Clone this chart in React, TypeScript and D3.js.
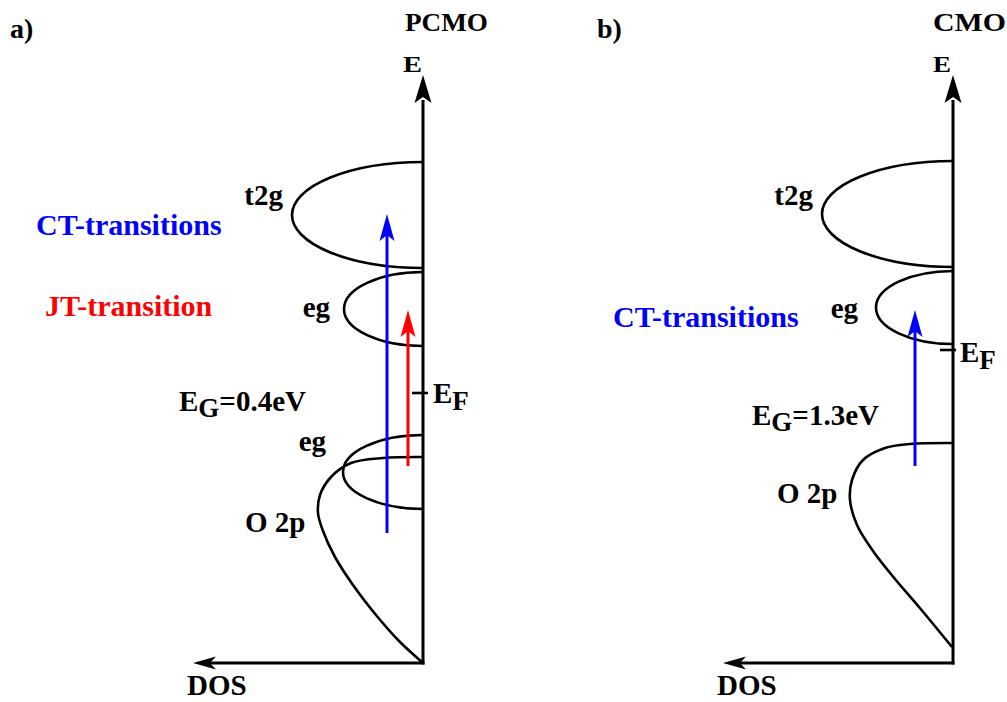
import React from "react";
import * as d3 from "d3";

// ---- Data (schematic units: dos = distance left of E axis, energy = height above DOS axis) ----
const panels = ["a", "b"];
const panelOrigins = [423, 953]; // pixel x of E axis per panel (layout)
const axisLenDos = 230;
const axisLenE = 583;

// bands: [panel, label, energyCenter, halfHeight, width]
const bandPanel = ["a", "a", "a", "b", "b"];
const bandLabel = ["t2g", "eg", "eg", "t2g", "eg"];
const bandCenter = [448, 354, 191, 449, 355.5];
const bandHalf = [53, 37, 37, 53, 36.5];
const bandWidth = [131, 79, 80, 131, 77];

// O 2p DOS curves (dos, energy)
const o2pA: [number, number][] = [
  [0, 206], [40, 205], [72, 200], [92, 186], [103, 168], [105, 150], [100, 132],
  [88, 106], [70, 78], [47, 48], [24, 22], [0, 0],
];
const o2pB: [number, number][] = [
  [0, 220], [43, 219], [68, 215], [90, 203], [101, 183], [103, 163], [96, 138],
  [80, 112], [58, 84], [34, 56], [1, 16],
];

// transition arrows: [panel, dos, fromE, toE, color]
const arrowPanel = ["a", "a", "b"];
const arrowDos = [36, 15, 38];
const arrowFrom = [130, 197, 197];
const arrowTo = [449, 353, 353];
const arrowColor = ["#0000ff", "#ff0000", "#0000ff"];

// Fermi level ticks
const fermiE = [270, 313];
const fermiDos0 = [-5, -3];
const fermiDos1 = [11, 13];

const gapLabels = ["0.4eV", "1.3eV"];
const materials = ["PCMO", "CMO"];

const FONT = "'Liberation Serif', 'Times New Roman', Times, serif";

function Panel({ idx }: { idx: number }) {
  const p = panels[idx];
  const ox = panelOrigins[idx];
  const x = d3.scaleLinear().domain([0, axisLenDos]).range([ox, ox - axisLenDos]);
  const y = d3.scaleLinear().domain([0, axisLenE]).range([663, 80]);
  const line = d3
    .line<[number, number]>()
    .x((d) => x(d[0]))
    .y((d) => y(d[1]))
    .curve(d3.curveCatmullRom.alpha(0.5));
  const o2p = idx === 0 ? o2pA : o2pB;

  const bands = bandPanel
    .map((bp, i) => ({ bp, i }))
    .filter((b) => b.bp === p)
    .map(({ i }) => {
      const top = y(bandCenter[i] + bandHalf[i]);
      const bot = y(bandCenter[i] - bandHalf[i]);
      const rx = x(0) - x(bandWidth[i]);
      const ry = (bot - top) / 2;
      return `M${x(0)},${top} A${rx},${ry} 0 0 0 ${x(0)},${bot}`;
    });

  const arrows = arrowPanel
    .map((ap, i) => ({ ap, i }))
    .filter((a) => a.ap === p)
    .map(({ i }) => {
      const ax = x(arrowDos[i]);
      const y0 = y(arrowFrom[i]);
      const y1 = y(arrowTo[i]);
      return (
        <g key={i}>
          <line x1={ax} y1={y0} x2={ax} y2={y1 + 20} stroke={arrowColor[i]} strokeWidth={3} />
          <path
            d={`M${ax},${y1} L${ax - 7.5},${y1 + 27} L${ax},${y1 + 21} L${ax + 7.5},${y1 + 27} Z`}
            fill={arrowColor[i]}
          />
        </g>
      );
    });

  const vx = x(0);
  const vTop = y(axisLenE);
  const hy = y(0);
  const hLeft = x(axisLenDos);

  return (
    <g>
      {/* E axis */}
      <line x1={vx} y1={hy + 1.5} x2={vx} y2={vTop + 20} stroke="#000" strokeWidth={3} />
      <path d={`M${vx},${vTop - 5} L${vx - 8.5},${vTop + 23} L${vx},${vTop + 17} L${vx + 8.5},${vTop + 23} Z`} fill="#000" />
      {/* DOS axis */}
      <line x1={vx + 1.5} y1={hy} x2={hLeft + 15} y2={hy} stroke="#000" strokeWidth={3} />
      <path d={`M${hLeft},${hy} L${hLeft + 23},${hy - 6.5} L${hLeft + 17},${hy} L${hLeft + 23},${hy + 6.5} Z`} fill="#000" />
      {/* bands */}
      {bands.map((d, i) => (
        <path key={i} d={d} fill="none" stroke="#000" strokeWidth={2.6} />
      ))}
      <path d={line(o2p) || ""} fill="none" stroke="#000" strokeWidth={2.6} />
      {/* Fermi tick */}
      <line x1={x(fermiDos1[idx])} x2={x(fermiDos0[idx])} y1={y(fermiE[idx])} y2={y(fermiE[idx])} stroke="#000" strokeWidth={2.6} />
      {arrows}
    </g>
  );
}

export default function App() {
  const T = { fontFamily: FONT, fontWeight: 700 as const, fontSize: 29, fill: "#000" };
  return (
    <svg width={1007} height={702} style={{ position: "absolute", left: 0, top: 0, background: "#fff" }}>
      <rect width={1007} height={702} fill="#fff" />
      <Panel idx={0} />
      <Panel idx={1} />

      {/* panel a labels */}
      <text {...T} x={10} y={38} fontSize={28}>a)</text>
      <text {...T} x={405} y={31} fontSize={25} textLength={83} lengthAdjust="spacingAndGlyphs">{materials[0]}</text>
      <text {...T} x={403} y={72} fontSize={24} textLength={19} lengthAdjust="spacingAndGlyphs">E</text>
      <text {...T} x={283} y={205} textAnchor="end">{bandLabel[0]}</text>
      <text {...T} x={36} y={235} fontSize={30} fill="#0000ff">CT-transitions</text>
      <text {...T} x={45} y={316} fontSize={30} fill="#ff0000">JT-transition</text>
      <text {...T} x={330} y={317} textAnchor="end">{bandLabel[1]}</text>
      <text {...T} x={179} y={411}>
        E<tspan dy={6} fontSize={27}>G</tspan><tspan dy={-6}>={gapLabels[0]}</tspan>
      </text>
      <text {...T} x={433} y={403}>
        E<tspan dy={7} fontSize={27}>F</tspan>
      </text>
      <text {...T} x={326} y={451} textAnchor="end">{bandLabel[2]}</text>
      <text {...T} x={245} y={532}>O 2p</text>
      <text {...T} x={187} y={695}>DOS</text>

      {/* panel b labels */}
      <text {...T} x={597} y={38} fontSize={28}>b)</text>
      <text {...T} x={933} y={31} fontSize={25} textLength={73} lengthAdjust="spacingAndGlyphs">{materials[1]}</text>
      <text {...T} x={933} y={72} fontSize={24} textLength={18} lengthAdjust="spacingAndGlyphs">E</text>
      <text {...T} x={813} y={205} textAnchor="end">{bandLabel[3]}</text>
      <text {...T} x={858} y={318} textAnchor="end">{bandLabel[4]}</text>
      <text {...T} x={613} y={327} fontSize={30} fill="#0000ff">CT-transitions</text>
      <text {...T} x={960} y={362}>
        E<tspan dy={7} fontSize={27}>F</tspan>
      </text>
      <text {...T} x={752} y={425}>
        E<tspan dy={6} fontSize={27}>G</tspan><tspan dy={-6}>={gapLabels[1]}</tspan>
      </text>
      <text {...T} x={777} y={503}>O 2p</text>
      <text {...T} x={717} y={695}>DOS</text>
    </svg>
  );
}
